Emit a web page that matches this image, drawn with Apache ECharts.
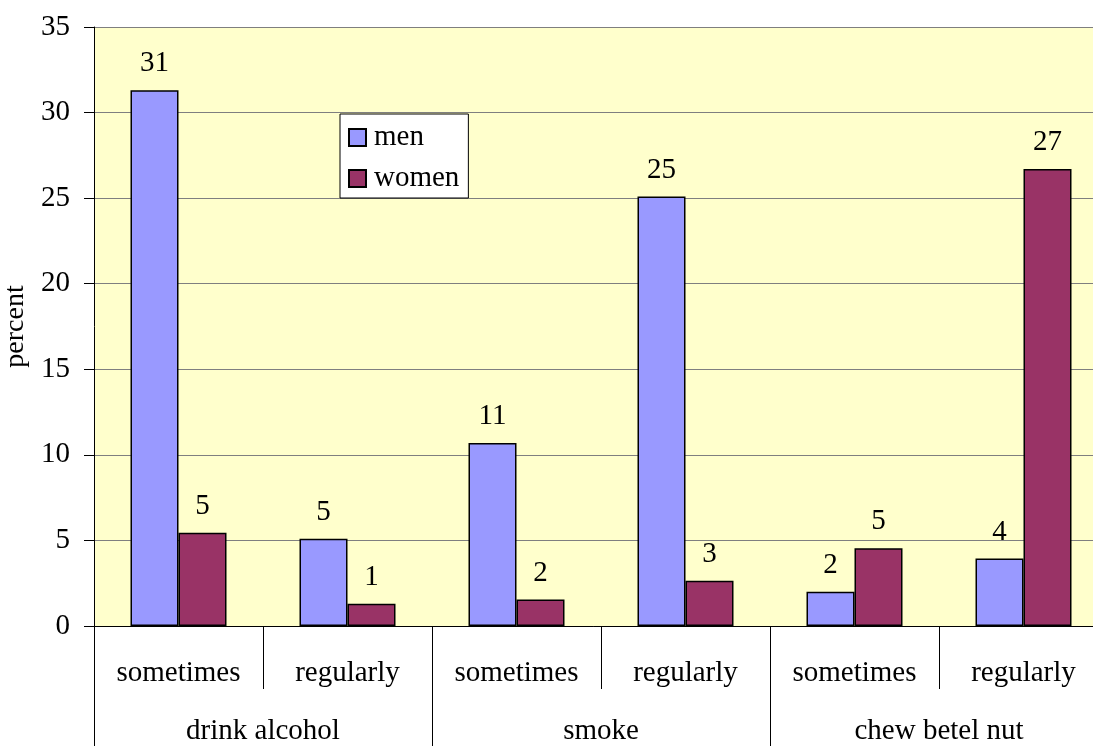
<!DOCTYPE html>
<html>
<head>
<meta charset="utf-8">
<script src="https://cdn.jsdelivr.net/npm/echarts@6/dist/echarts.min.js"></script>
<style>
  html, body { margin: 0; padding: 0; background: #ffffff; }
  #chart { width: 1093px; height: 746px; }
</style>
</head>
<body>
<div id="chart"></div>
<script>
// Habits, by frequency, grouped by habit
const habits = ['drink alcohol', 'smoke', 'chew betel nut'];
const frequencies = ['sometimes', 'regularly', 'sometimes', 'regularly', 'sometimes', 'regularly'];
const menValues = [31.3, 5.1, 10.7, 25.1, 2.0, 3.95];
const womenValues = [5.45, 1.3, 1.55, 2.65, 4.55, 26.7];
const yTicks = { min: 0, max: 35, interval: 5 };

const FONT = "'Liberation Serif', 'Times New Roman', serif";
const FS = 29;

const chart = echarts.init(document.getElementById('chart'));

const valueLabel = {
  show: true,
  position: 'top',
  distance: 12,
  color: '#000',
  fontFamily: FONT,
  fontSize: FS,
  formatter: p => String(Math.round(p.value))
};

chart.setOption({
  animation: false,
  backgroundColor: '#ffffff',
  textStyle: { fontFamily: FONT },
  grid: {
    left: 94,
    top: 27,
    right: -15,
    bottom: 120,
    containLabel: false,
    outerBoundsMode: 'none',
    show: true,
    backgroundColor: '#FFFFCC',
    borderWidth: 0
  },
  legend: {
    orient: 'vertical',
    left: 340,
    top: 114,
    padding: [9, 9, 5, 8],
    itemGap: 12,
    itemWidth: 17,
    itemHeight: 17,
    icon: 'rect',
    backgroundColor: '#ffffff',
    borderColor: '#000',
    borderWidth: 1,
    borderRadius: 0,
    textStyle: { fontFamily: FONT, fontSize: FS, color: '#000', padding: [0, 0, 0, 3] },
    data: ['men', 'women']
  },
  xAxis: [
    {
      type: 'category',
      position: 'bottom',
      data: frequencies,
      boundaryGap: true,
      axisLine: { show: true, lineStyle: { color: '#000', width: 1 } },
      axisTick: { show: true, interval: 0, length: 63, lineStyle: { color: '#000' } },
      axisLabel: { interval: 0, margin: 33, color: '#000', fontFamily: FONT, fontSize: FS },
      splitLine: { show: false }
    },
    {
      type: 'category',
      position: 'bottom',
      offset: 0,
      data: habits,
      boundaryGap: true,
      axisLine: { show: false },
      axisTick: { show: true, interval: 0, length: 120, lineStyle: { color: '#000' } },
      axisLabel: { interval: 0, margin: 91, color: '#000', fontFamily: FONT, fontSize: FS },
      splitLine: { show: false }
    }
  ],
  yAxis: {
    type: 'value',
    min: yTicks.min,
    max: yTicks.max,
    interval: yTicks.interval,
    name: 'percent',
    nameLocation: 'middle',
    nameGap: 61,
    nameRotate: 90,
    nameTextStyle: { color: '#000', fontFamily: FONT, fontSize: 28 },
    axisLine: { show: true, lineStyle: { color: '#000', width: 1 } },
    axisTick: { show: true, inside: false, length: 10, lineStyle: { color: '#000' } },
    axisLabel: { margin: 24, color: '#000', fontFamily: FONT, fontSize: FS },
    splitLine: { show: true, lineStyle: { color: '#7f7f7f', width: 1 } }
  },
  series: [
    {
      name: 'men',
      type: 'bar',
      xAxisIndex: 0,
      data: menValues,
      barWidth: 48,
      barGap: '0%',
      itemStyle: { color: '#9999FF', borderColor: '#000', borderWidth: 1.5 },
      label: valueLabel
    },
    {
      name: 'women',
      type: 'bar',
      xAxisIndex: 0,
      data: womenValues,
      barWidth: 48,
      barGap: '0%',
      itemStyle: { color: '#993366', borderColor: '#000', borderWidth: 1.5 },
      label: valueLabel
    }
  ]
});
</script>
</body>
</html>
